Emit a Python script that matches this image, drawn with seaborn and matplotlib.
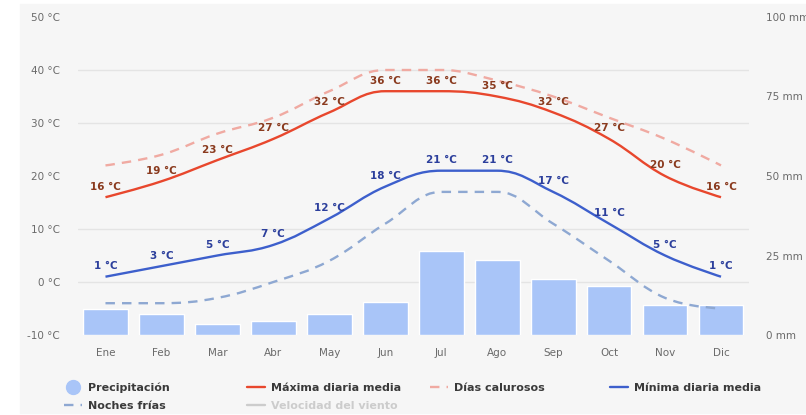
import numpy as np
import pandas as pd
import seaborn as sns
import matplotlib.pyplot as plt
from matplotlib.path import Path
from matplotlib.patches import PathPatch, Rectangle
from matplotlib.lines import Line2D


months = ["Ene", "Feb", "Mar", "Abr", "May", "Jun",
          "Jul", "Ago", "Sep", "Oct", "Nov", "Dic"]
precip_mm = [8.2, 6.6, 3.5, 4.4, 6.6, 10.4, 26.4, 23.6, 17.6, 15.4, 9.4, 9.4]
max_media = [16, 19, 23, 27, 32, 36, 36, 35, 32, 27, 20, 16]
dias_calurosos = [22, 24, 28, 31, 36, 40, 40, 38, 35, 31, 27, 22]
min_media = [1, 3, 5, 7, 12, 18, 21, 21, 17, 11, 5, 1]
noches_frias = [-4, -4, -3, 0, 4, 11, 17, 17, 11, 4, -3, -5]

temp_ticks = [-10, 0, 10, 20, 30, 40, 50]
mm_ticks = [0, 25, 50, 75, 100]

BG = "#f6f6f6"
C_BAR = "#a9c5f8"
C_MAX = "#e8472d"
C_HOT = "#f0aaa2"
C_MIN = "#3d5fcc"
C_COLD = "#8ea8d2"
C_LBL_R = "#8a3a1e"
C_LBL_B = "#2c3f9c"
C_LEG = "#3a3a3a"


def spline_path(ys, smoothing=1.5):
    # highcharts-like spline through the points (drawing only)
    xs = list(range(len(ys)))
    n = len(ys)
    lc = [None] * n
    rc = [None] * n
    d = smoothing + 1
    for i in range(1, n - 1):
        px, py = xs[i], ys[i]
        lx, ly = xs[i - 1], ys[i - 1]
        nx, ny = xs[i + 1], ys[i + 1]
        lcx = (smoothing * px + lx) / d
        lcy = (smoothing * py + ly) / d
        rcx = (smoothing * px + nx) / d
        rcy = (smoothing * py + ny) / d
        corr = (rcy - lcy) * (rcx - px) / (rcx - lcx) + py - rcy
        lcy += corr
        rcy += corr
        if lcy > ly and lcy > py:
            lcy = max(ly, py); rcy = 2 * py - lcy
        elif lcy < ly and lcy < py:
            lcy = min(ly, py); rcy = 2 * py - lcy
        if rcy > ny and rcy > py:
            rcy = max(ny, py); lcy = 2 * py - rcy
        elif rcy < ny and rcy < py:
            rcy = min(ny, py); lcy = 2 * py - rcy
        lc[i] = (lcx, lcy)
        rc[i] = (rcx, rcy)
    verts = [(xs[0], ys[0])]
    codes = [Path.MOVETO]
    for i in range(1, n):
        c1 = rc[i - 1] if rc[i - 1] else (xs[i - 1], ys[i - 1])
        c2 = lc[i] if lc[i] else (xs[i], ys[i])
        verts += [c1, c2, (xs[i], ys[i])]
        codes += [Path.CURVE4] * 3
    return Path(verts, codes)


sns.set_theme(style="white")
plt.rcParams["font.family"] = ["DejaVu Sans"]

fig = plt.figure(figsize=(8.06, 4.15), dpi=100, facecolor="white")
fig.patches.append(Rectangle((20 / 806, 2 / 415), 1, 1 - 6 / 415,
                             transform=fig.transFigure, color=BG, zorder=-10))

ax = fig.add_axes([77.5 / 806, 1 - 335 / 415, (749 - 77.5) / 806, 318 / 415])
ax.set_facecolor(BG)

df = pd.DataFrame({"mes": months, "mm": precip_mm})
sns.barplot(data=df, x="mes", y="mm", color=C_BAR, saturation=1,
            width=0.8, ax=ax, zorder=2)
ax.set_ylim(0, 100)
ax.set_xlim(-0.5, 11.5)
ax.set_xlabel("")
ax.set_ylabel("")
for s in ax.spines.values():
    s.set_visible(False)

ax2 = ax.twinx()
ax2.set_ylim(-10, 50)
ax2.patch.set_visible(False)
for s in ax2.spines.values():
    s.set_visible(False)

# mm axis on the right, gridlines follow the °C ticks
ax.yaxis.tick_right()
ax.set_yticks(mm_ticks)
ax.set_yticklabels([f"{v} mm" for v in mm_ticks])
ax.set_yticks(np.linspace(0, 100, len(temp_ticks)), minor=True)
ax.grid(False)
ax.grid(which="minor", axis="y", color="#e4e4e4", lw=1, zorder=0)
ax.set_axisbelow(True)
ax.tick_params(axis="y", which="both", length=0, pad=12.5, labelsize=7.5,
               labelcolor="#6a6a6a", left=False, labelleft=False,
               right=False, labelright=True)
ax.tick_params(axis="x", length=0, pad=9, labelsize=7.5, labelcolor="#6a6a6a")

ax2.yaxis.tick_left()
ax2.set_yticks(temp_ticks)
ax2.set_yticklabels([f"{v} °C" for v in temp_ticks])
ax2.tick_params(axis="y", length=0, pad=12.5, labelsize=7.5,
                labelcolor="#6a6a6a", right=False, labelright=False)
ax2.grid(False)

series = [
    (dias_calurosos, C_HOT, (0, (4, 3)), None),
    (noches_frias, C_COLD, (0, (4, 3)), None),
    (max_media, C_MAX, "-", C_LBL_R),
    (min_media, C_MIN, "-", C_LBL_B),
]
for vals, col, ls, lblcol in series:
    ax2.add_patch(PathPatch(spline_path(vals), facecolor="none", edgecolor=col,
                            lw=1.7, linestyle=ls, capstyle="butt", zorder=3))
    if lblcol:
        for i, v in enumerate(vals):
            ax2.annotate(f"{v} °C", (i, v), xytext=(0, 4),
                         textcoords="offset points", ha="center", va="bottom",
                         fontsize=7.5, fontweight="bold", color=lblcol, zorder=4)

# legend: four columns placed like the original
legend_cols = [
    (64, [(Line2D([], [], marker="o", ls="none", ms=10, color=C_BAR), "Precipitación", C_LEG),
          (Line2D([], [], color=C_COLD, lw=1.7, ls=(0, (4, 3))), "Noches frías", C_LEG)]),
    (247, [(Line2D([], [], color=C_MAX, lw=1.7), "Máxima diaria media", C_LEG),
           (Line2D([], [], color="#cccccc", lw=1.7), "Velocidad del viento", "#cccccc")]),
    (430, [(Line2D([], [], color=C_HOT, lw=1.7, ls=(0, (4, 3))), "Días calurosos", C_LEG)]),
    (610, [(Line2D([], [], color=C_MIN, lw=1.7), "Mínima diaria media", C_LEG)]),
]
for xpx, items in legend_cols:
    leg = fig.legend([h for h, _, _ in items], [t for _, t, _ in items],
                     loc="upper left", bbox_to_anchor=(xpx / 806, 1 - 382.5 / 415),
                     frameon=False, borderpad=0, borderaxespad=0,
                     handlelength=1.6, handletextpad=0.6, labelspacing=0.75,
                     prop={"size": 8, "weight": "bold"})
    for txt, (_, _, c) in zip(leg.get_texts(), items):
        txt.set_color(c)

fig.savefig("out.png", dpi=100, facecolor="white")
